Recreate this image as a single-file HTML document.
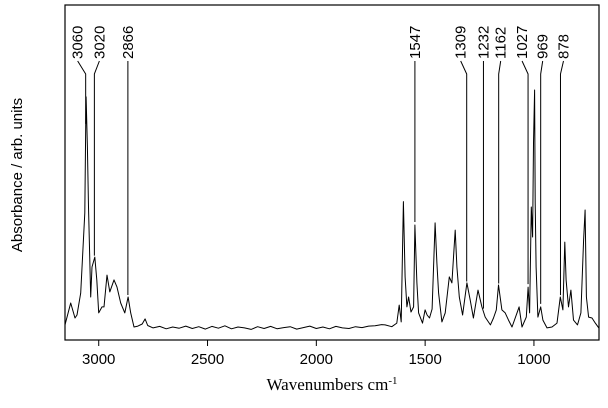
<!DOCTYPE html>
<html><head><meta charset="utf-8"><style>
html,body{margin:0;padding:0;background:#fff;}
svg{display:block;font-family:"Liberation Sans",Arial,sans-serif;}
</style></head><body>
<svg id="chart" width="608" height="408" viewBox="0 0 608 408" xmlns="http://www.w3.org/2000/svg">
<rect x="65" y="5" width="534" height="335" fill="none" stroke="#000" stroke-width="1.2"/>
<g id="xticks"></g>
<g id="spec"></g>
<g id="labels"></g>
<text x="332" y="390" text-anchor="middle" font-family="'Liberation Serif',serif" font-size="17">Wavenumbers cm<tspan dy="-6" font-size="11">-1</tspan></text>
<text transform="translate(22,175) rotate(-90)" text-anchor="middle" font-size="15">Absorbance / arb. units</text>
</svg>
<script>
const xTicks=[3000,2500,2000,1500,1000];
const wavenumbers=[3155,3129,3109,3100,3083,3064,3060,3058,3052,3047,3037,3031,3018,3009,3000,2985,2976,2962,2949,2930,2916,2899,2880,2865,2853,2838,2820,2800,2787,2775,2750,2720,2690,2660,2630,2600,2570,2540,2510,2480,2450,2420,2390,2360,2330,2300,2270,2240,2210,2180,2150,2120,2090,2060,2030,2000,1970,1940,1910,1880,1850,1820,1790,1760,1730,1700,1684,1653,1630,1619,1610,1600,1592,1584,1576,1565,1553,1547,1538,1530,1512,1500,1491,1480,1468,1454,1446,1438,1423,1408,1389,1377,1362,1354,1343,1328,1308,1293,1278,1257,1239,1224,1200,1186,1173,1163,1147,1132,1117,1101,1078,1068,1055,1035,1027,1020,1012,1006,1002,997,994,990,982,969,959,940,917,894,879,867,858,852,841,830,818,800,784,772,765,759,749,733,718,702];
const absorbance=[0.007,0.08,0.03,0.04,0.113,0.38,0.667,0.767,0.6,0.4,0.1,0.2,0.233,0.157,0.047,0.067,0.067,0.173,0.117,0.157,0.133,0.08,0.047,0.1,0.047,0.0,0.003,0.01,0.027,0.005,-0.003,0.002,-0.006,0.0,-0.004,0.003,-0.005,0.001,-0.007,0.002,-0.004,0.004,-0.006,0.0,-0.003,-0.008,0.001,-0.005,0.002,-0.006,-0.002,0.001,-0.007,-0.002,0.003,-0.005,0.0,-0.006,0.002,-0.003,-0.005,0.001,-0.002,0.003,0.004,0.008,0.007,0.001,0.013,0.073,0.017,0.418,0.167,0.067,0.1,0.05,0.067,0.34,0.147,0.047,0.013,0.057,0.04,0.03,0.06,0.347,0.213,0.113,0.017,0.047,0.167,0.147,0.323,0.2,0.1,0.04,0.147,0.09,0.03,0.123,0.067,0.033,0.007,0.03,0.057,0.14,0.057,0.047,0.023,0.0,0.047,0.067,0.0,0.033,0.133,0.047,0.4,0.3,0.613,0.79,0.413,0.2,0.033,0.067,0.023,-0.003,0.0,0.013,0.1,0.057,0.283,0.157,0.067,0.123,0.023,0.007,0.047,0.29,0.39,0.1,0.033,0.03,0.013,-0.003];
const peakLabels=[3060,3020,2866,1547,1309,1232,1162,1027,969,878];
const peakText=["3060","3020","2866","1547","1309","1232","1162","1027","969","878"];
const labelOffsets=[-8,5,0,0,-6,0,2,-6,2,3];

const NS="http://www.w3.org/2000/svg";
const X0=65,X1=599,W0=3155,W1=701,YB=327,YS=300;
function xs(w){return X0+(W0-w)*(X1-X0)/(W0-W1);}
function ys(a){return YB-a*YS;}
function interp(w){for(let i=0;i<wavenumbers.length-1;i++){const a=wavenumbers[i],b=wavenumbers[i+1];if(w<=a&&w>=b){const t=(a-w)/(a-b);return absorbance[i]+(absorbance[i+1]-absorbance[i])*t;}}return 0;}

const gx=document.getElementById('xticks');
xTicks.forEach(t=>{
  const l=document.createElementNS(NS,'line');
  
  
  l.setAttribute('x1',xs(t));l.setAttribute('x2',xs(t));l.setAttribute('y1',340);l.setAttribute('y2',346);l.setAttribute('stroke','#000');
  gx.appendChild(l);
  const tx=document.createElementNS(NS,'text');
  
  
  tx.setAttribute('x',xs(t));tx.setAttribute('y',364);tx.setAttribute('text-anchor','middle');tx.setAttribute('font-size','15');
  tx.textContent=t;gx.appendChild(tx);
});

const gs=document.getElementById('spec');
let d='';
wavenumbers.forEach((w,i)=>{d+=(i?'L':'M')+xs(w).toFixed(1)+','+ys(absorbance[i]).toFixed(1);});
const p=document.createElementNS(NS,'path');


p.setAttribute('d',d);p.setAttribute('fill','none');p.setAttribute('stroke','#000');p.setAttribute('stroke-width','1');p.setAttribute('stroke-linejoin','round');
gs.appendChild(p);

const gl=document.getElementById('labels');
peakLabels.forEach((w,i)=>{
  const px=xs(w),lx=px+labelOffsets[i];
  const yTop=ys(interp(w))-3;
  const pl=document.createElementNS(NS,'polyline');
  
  
  pl.setAttribute('points',lx+',61 '+px+',74 '+px+','+yTop);
  pl.setAttribute('fill','none');pl.setAttribute('stroke','#000');pl.setAttribute('stroke-width','1');
  gl.appendChild(pl);
  const t=document.createElementNS(NS,'text');
  
  
  t.setAttribute('transform','translate('+(lx+5)+',59) rotate(-90)');
  t.setAttribute('font-size','15');
  t.textContent=peakText[i];gl.appendChild(t);
});
</script>
</body></html>
